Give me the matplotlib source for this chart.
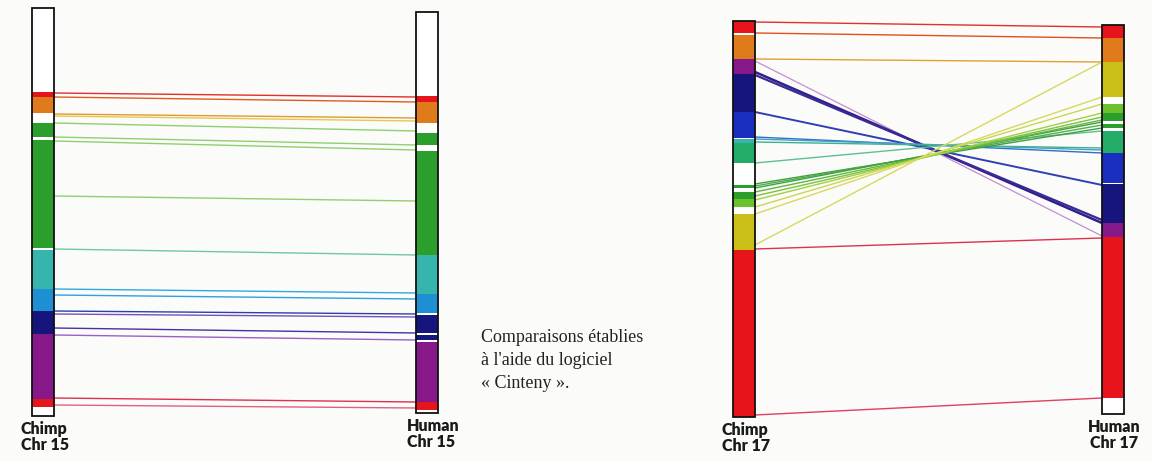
import matplotlib
matplotlib.use("Agg")
import matplotlib.pyplot as plt

# ---------------- data (positions, in chart units) ----------------
RED, ORANGE, OLIVE = "#e8141c", "#e07b1c", "#c9bf16"
LGREEN, GREEN, SEAGREEN = "#6cc22c", "#2b9e2b", "#24ad68"
TEAL, LBLUE, BLUE, NAVY, PURPLE = "#35b5ab", "#1f8fd4", "#1a2fbf", "#15157d", "#86188a"

# chromosome extents (top, bottom)
chimp15_extent = (8, 416)
human15_extent = (12, 413)
chimp17_extent = (21, 417)
human17_extent = (25, 414)

# coloured segments: start, end, colour
chimp15_starts = [92, 97, 123, 140, 250, 289, 311, 334, 399]
chimp15_ends = [97, 113, 137, 248, 289, 311, 334, 399, 407]
chimp15_colors = [RED, ORANGE, GREEN, GREEN, TEAL, LBLUE, NAVY, PURPLE, RED]

human15_starts = [96, 102, 133, 151, 255, 294, 315, 335, 342, 402]
human15_ends = [102, 123, 145, 255, 294, 313, 333, 340, 402, 410]
human15_colors = [RED, ORANGE, GREEN, GREEN, TEAL, LBLUE, NAVY, NAVY, PURPLE, RED]

chimp17_starts = [21, 35, 59, 74, 112, 139, 143, 185, 192, 199, 214, 250]
chimp17_ends = [33, 59, 74, 112, 138, 143, 163, 188, 199, 207, 250, 417]
chimp17_colors = [RED, ORANGE, PURPLE, NAVY, BLUE, TEAL, SEAGREEN, GREEN, GREEN,
                  LGREEN, OLIVE, RED]

human17_starts = [25, 38, 62, 104, 113, 124, 131, 153, 184, 223, 237]
human17_ends = [38, 62, 97, 113, 121, 128, 153, 183, 223, 237, 398]
human17_colors = [RED, ORANGE, OLIVE, LGREEN, GREEN, GREEN, SEAGREEN, BLUE, NAVY,
                  PURPLE, RED]

# synteny links: chimp position, human position, colour, weight
links15_chimp = [93, 97, 114, 116, 123, 137, 141, 196, 249, 289, 295, 311, 314, 328, 335, 398, 405]
links15_human = [97, 102, 118, 121, 131, 145, 150, 201, 255, 293, 299, 314, 317, 333, 340, 402, 408]
links15_colors = ["#e0302a", "#e05a20", "#e09a30", "#e8c850", "#90cf70", "#90cf70",
                  "#90cf70", "#90cf70", "#70c8a0", "#30a8e0", "#30a0e0", "#2a40b0",
                  "#7a50c0", "#4a30a0", "#9a60c8", "#e0304a", "#e06080"]

links17_chimp = [22, 33, 59, 61, 72, 75, 112, 137, 139, 142, 163, 184, 186, 188, 192,
                 196, 200, 207, 214, 245, 249, 415]
links17_human = [27, 38, 62, 236, 223, 220, 185, 153, 150, 148, 131, 128, 125, 122, 120,
                 117, 113, 104, 97, 62, 238, 398]
links17_colors = ["#e03030", "#e05020", "#e0a030", "#c090d0", "#30208a", "#3a2a95",
                  "#3040b0", "#3070c8", "#40a0c8", "#40b090", "#60c090", "#40a040",
                  "#50b050", "#40a040", "#60b840", "#80c040", "#a0d040", "#c8d850",
                  "#d8d860", "#d8d860", "#e03050", "#e04060"]
links17_widths = [1.0, 1.0, 1.0, 0.9, 1.8, 1.6, 1.4, 1.0, 1.0, 1.0, 1.0, 1.0, 1.0,
                  1.0, 1.0, 1.0, 1.0, 1.0, 1.0, 1.0, 1.0, 1.0]

labels = ["Chimp\nChr 15", "Human\nChr 15", "Chimp\nChr 17", "Human\nChr 17"]
caption = "Comparaisons établies\nà l'aide du logiciel\n« Cinteny »."

# ---------------- layout ----------------
W, H = 1152, 461
BAR_LEFT = {"c15": 32, "h15": 416, "c17": 733, "h17": 1102}
BAR_W = 22

fig = plt.figure(figsize=(W / 100, H / 100), dpi=100)
fig.patch.set_facecolor("#fbfbfa")
ax = fig.add_axes([0, 0, 1, 1])
ax.set_xlim(0, W)
ax.set_ylim(H, 0)
ax.axis("off")


def draw_chrom(key, extent, starts, ends, colors, label, multialign, dx):
    x0 = BAR_LEFT[key]
    cx = x0 + BAR_W / 2
    ax.bar(cx, extent[1] - extent[0], bottom=extent[0], width=BAR_W,
           color="white", edgecolor="none", zorder=1)
    heights = [e - s for s, e in zip(starts, ends)]
    ax.bar([cx] * len(starts), heights, bottom=starts, width=BAR_W,
           color=colors, edgecolor="none", zorder=2)
    ax.bar(cx, extent[1] - extent[0], bottom=extent[0], width=BAR_W,
           fill=False, edgecolor="#111111", linewidth=1.3, zorder=3)
    ax.text(cx + dx, extent[1] + 5, label,
            ha="center", va="top", multialignment=multialign,
            fontsize=11.5, fontweight="heavy", family=["Lato", "DejaVu Sans"],
            color="#1a1a1a", linespacing=1.0)


def draw_links(left_key, right_key, cy, hy, colors, widths):
    xa = BAR_LEFT[left_key] + BAR_W
    xb = BAR_LEFT[right_key]
    for a, b, c, w in zip(cy, hy, colors, widths):
        ax.plot([xa, xb], [a, b], color=c, linewidth=w, solid_capstyle="butt", zorder=1.5)


draw_links("c15", "h15", links15_chimp, links15_human, links15_colors,
           [1.0] * len(links15_chimp))
draw_links("c17", "h17", links17_chimp, links17_human, links17_colors, links17_widths)

draw_chrom("c15", chimp15_extent, chimp15_starts, chimp15_ends, chimp15_colors, labels[0], "left", 2)
draw_chrom("h15", human15_extent, human15_starts, human15_ends, human15_colors, labels[1], "left", 6)
draw_chrom("c17", chimp17_extent, chimp17_starts, chimp17_ends, chimp17_colors, labels[2], "left", 2)
draw_chrom("h17", human17_extent, human17_starts, human17_ends, human17_colors, labels[3], "center", 1)

ax.text(481, 329, caption, ha="left", va="top", fontsize=13,
        family=["Liberation Serif", "DejaVu Serif"], color="#222222", linespacing=1.45)

fig.savefig("out.png", dpi=100, facecolor=fig.get_facecolor())
